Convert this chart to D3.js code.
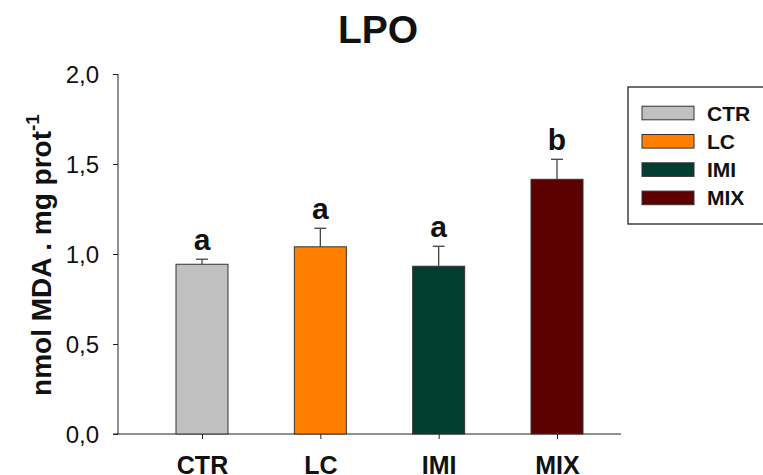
<!DOCTYPE html>
<html><head><meta charset="utf-8">
<script src="https://cdn.jsdelivr.net/npm/d3@7"></script>
<style>body{margin:0;background:#fff;overflow:hidden}svg{display:block}</style>
</head><body>
<script>
const categories = ["CTR", "LC", "IMI", "MIX"];
const means = [0.943, 1.04, 0.932, 1.415];
const errors = [0.028, 0.103, 0.111, 0.111];
const letters = ["a", "a", "a", "b"];
const colors = ["#c0c0c0", "#ff8000", "#013d30", "#5c0000"];
const yTicks = [0, 0.5, 1.0, 1.5, 2.0];

const W = 763, H = 475;
const FONT = "Liberation Sans, Arial, Helvetica, sans-serif";
const svg = d3.select("body").append("svg").attr("width", W).attr("height", H);

const y = d3.scaleLinear().domain([0, 2]).range([434, 74]);
const x = d3.scalePoint().domain(categories).range([202, 557]);
const barW = 52;
const fmt = d => d3.format(".1f")(d).replace(".", ",");

// y axis
const yAx = svg.append("g").attr("transform", "translate(118,0)")
  .call(d3.axisLeft(y).tickValues(yTicks).tickFormat(fmt).tickSize(5).tickPadding(14));
yAx.attr("font-size", null).attr("font-family", null);
yAx.select(".domain").attr("d", "M0," + y(2) + "V" + y(0));
yAx.selectAll("text").style("font-family", FONT).style("font-size", "24px").attr("fill", "#111").attr("dy", "0.35em");
yAx.selectAll("line,path").attr("stroke", "#222");

// x axis
const xAx = svg.append("g").attr("transform", "translate(0,434)")
  .call(d3.axisBottom(x).tickSize(5).tickPadding(0));
xAx.attr("font-size", null).attr("font-family", null);
xAx.select(".domain").attr("d", "M113,0H621");
xAx.selectAll("text").style("font-family", FONT).style("font-weight", "bold").style("font-size", "25px")
  .attr("fill", "#111").attr("dy", null).attr("y", 40);
xAx.selectAll("line,path").attr("stroke", "#222");

// bars
svg.selectAll("rect.bar").data(categories).join("rect").attr("class", "bar")
  .attr("x", d => x(d) - barW / 2).attr("width", barW)
  .attr("y", (d, i) => y(means[i])).attr("height", (d, i) => y(0) - y(means[i]))
  .attr("fill", (d, i) => colors[i]).attr("stroke", "#333").attr("stroke-width", 1);

// error bars (upper only)
const eg = svg.selectAll("g.err").data(categories).join("g").attr("class", "err");
eg.append("line").attr("x1", d => x(d)).attr("x2", d => x(d))
  .attr("y1", (d, i) => y(means[i])).attr("y2", (d, i) => y(means[i] + errors[i]))
  .attr("stroke", "#444").attr("stroke-width", 1.3);
eg.append("line").attr("x1", d => x(d) - 6).attr("x2", d => x(d) + 6)
  .attr("y1", (d, i) => y(means[i] + errors[i])).attr("y2", (d, i) => y(means[i] + errors[i]))
  .attr("stroke", "#444").attr("stroke-width", 1.3);

// significance letters
svg.selectAll("text.let").data(categories).join("text").attr("class", "let")
  .attr("x", d => x(d)).attr("y", (d, i) => y(means[i] + errors[i]) - 9)
  .attr("text-anchor", "middle").style("font-family", FONT)
  .style("font-weight", "bold").style("font-size", "30px").attr("fill", "#111")
  .text((d, i) => letters[i]);

// title
svg.append("text").attr("x", 378).attr("y", 43).attr("text-anchor", "middle")
  .style("font-family", FONT).style("font-weight", "bold")
  .style("font-size", "39px").attr("fill", "#111").text("LPO");

// y label
const yl = svg.append("text").attr("transform", "translate(51,255) rotate(-90)")
  .attr("text-anchor", "middle").style("font-family", FONT)
  .style("font-weight", "bold").style("font-size", "28px").attr("fill", "#111");
yl.append("tspan").text("nmol MDA . mg prot");
yl.append("tspan").attr("dy", -12).style("font-size", "19px").text("-1");

// legend
const lg = svg.append("g");
lg.append("rect").attr("x", 628).attr("y", 87).attr("width", 140).attr("height", 137)
  .attr("fill", "#fff").attr("stroke", "#222").attr("stroke-width", 1.3);
const rows = lg.selectAll("g.row").data(categories).join("g").attr("class", "row")
  .attr("transform", (d, i) => "translate(0," + (113 + i * 28.3) + ")");
rows.append("rect").attr("x", 642).attr("y", -6.8).attr("width", 52).attr("height", 13.6)
  .attr("fill", (d, i) => colors[i]).attr("stroke", "#333").attr("stroke-width", 1);
rows.append("text").attr("x", 707).attr("y", 7.5).style("font-family", FONT)
  .style("font-weight", "bold").style("font-size", "21px").attr("fill", "#111").text(d => d);
</script>
</body></html>
